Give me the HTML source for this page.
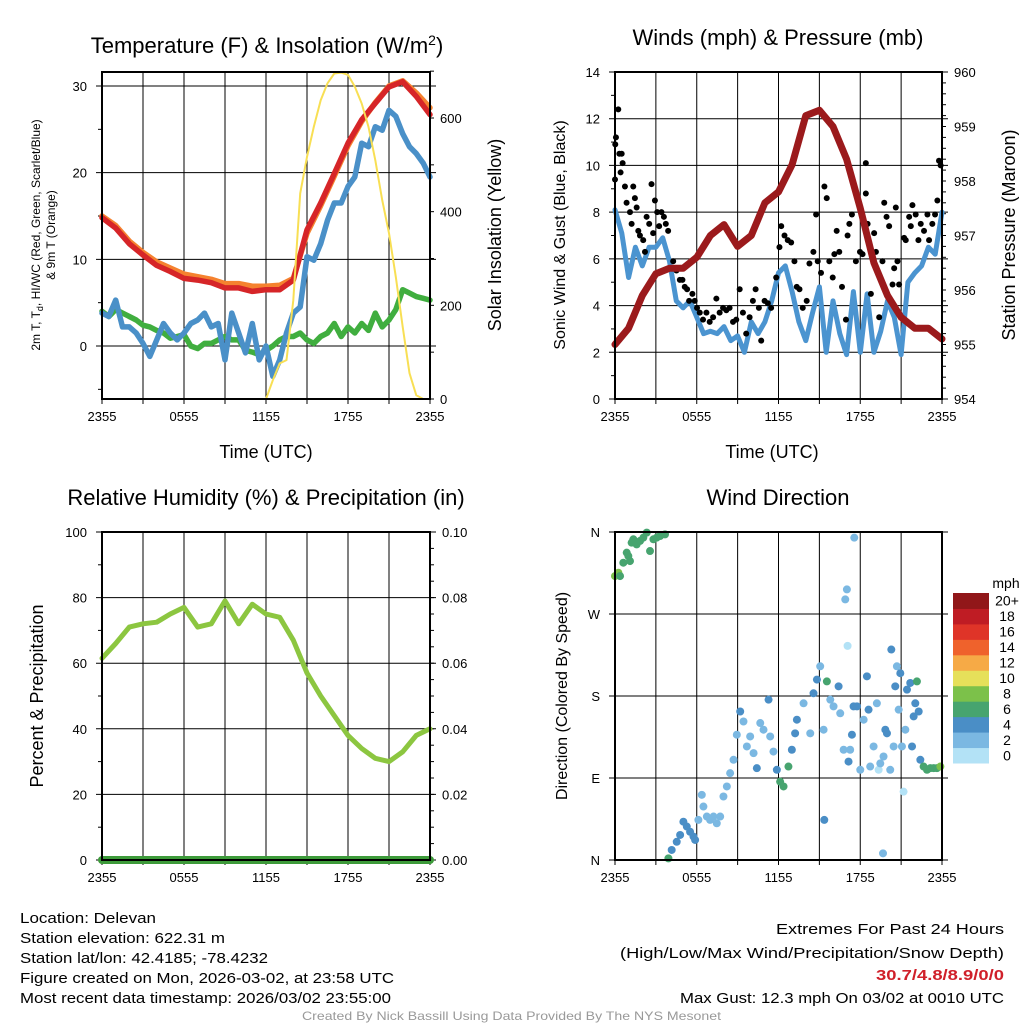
<!DOCTYPE html>
<html><head><meta charset="utf-8"><style>
html,body{margin:0;padding:0;background:#fff;}
svg{display:block;font-family:"Liberation Sans",Arial,sans-serif;}
</style></head><body>
<svg id="chart" width="1024" height="1024" viewBox="0 0 1024 1024" xmlns="http://www.w3.org/2000/svg">
<g id="g1"></g>
<g id="g2"></g>
<g id="g3"></g>
<g id="g4"></g>
<g id="ft">
<text x="20" y="923" font-size="15" textLength="136" lengthAdjust="spacingAndGlyphs">Location: Delevan</text>
<text x="20" y="943" font-size="15" textLength="205" lengthAdjust="spacingAndGlyphs">Station elevation: 622.31 m</text>
<text x="20" y="963" font-size="15" textLength="248" lengthAdjust="spacingAndGlyphs">Station lat/lon: 42.4185; -78.4232</text>
<text x="20" y="983" font-size="15" textLength="374" lengthAdjust="spacingAndGlyphs">Figure created on Mon, 2026-03-02, at 23:58 UTC</text>
<text x="20" y="1003" font-size="15" textLength="371" lengthAdjust="spacingAndGlyphs">Most recent data timestamp: 2026/03/02 23:55:00</text>
<text x="776" y="934" font-size="15" textLength="228" lengthAdjust="spacingAndGlyphs">Extremes For Past 24 Hours</text>
<text x="620" y="958" font-size="15" textLength="384" lengthAdjust="spacingAndGlyphs">(High/Low/Max Wind/Precipitation/Snow Depth)</text>
<text x="876" y="980" font-size="15" font-weight="bold" fill="#d0202a" textLength="128" lengthAdjust="spacingAndGlyphs">30.7/4.8/8.9/0/0</text>
<text x="680" y="1003" font-size="15" textLength="324" lengthAdjust="spacingAndGlyphs">Max Gust: 12.3 mph On 03/02 at 0010 UTC</text>
<text x="302" y="1020" font-size="12" fill="#999" textLength="419" lengthAdjust="spacingAndGlyphs">Created By Nick Bassill Using Data Provided By The NYS Mesonet</text>
</g>
</svg>
<script>
// ---------- data ----------
const timeTicks = ["2355","0555","1155","1755","2355"];
const hourly = [0,1,2,3,4,5,6,7,8,9,10,11,12,13,14,15,16,17,18,19,20,21,22,23,24];
const tempRed = [14.8,13.6,11.8,10.5,9.3,8.6,7.8,7.6,7.3,6.7,6.7,6.3,6.5,6.5,7.6,13.4,16.5,19.9,23.4,26.1,28,29.9,30.5,28.8,26.7];
const temp9mOrange = [15.0,13.9,12.1,10.8,9.7,9.0,8.3,8.0,7.7,7.2,7.2,6.9,6.9,7.0,7.8,13.0,16.2,19.6,23.1,25.9,28.1,30.0,30.6,29.2,27.5];
const halfHour = [0,0.5,1,1.5,2,2.5,3,3.5,4,4.5,5,5.5,6,6.5,7,7.5,8,8.5,9,9.5,10,10.5,11,11.5,12,12.5,13,13.5,14,14.5,15,15.5,16,16.5,17,17.5,18,18.5,19,19.5,20,20.5,21,21.5,22,22.5,23,23.5,24];
const dewBlue = [3.8,3.4,5.3,2.2,2.2,1.5,0.3,-1.2,0.7,2.6,1.5,0.7,1.5,2.6,3.0,3.8,2.2,2.6,-1.6,3.8,1.5,-0.8,2.6,-1.6,0,-3.5,-1.6,1.5,3.8,4.5,10.3,9.9,11.8,14.5,16.5,16.5,18.4,19.5,23.4,23,25.3,24.9,27.2,26.5,24.5,23,22.2,21.1,19.5];
const hiwcGreen = [4.0,3.4,4.2,3.8,3.4,3.0,2.4,2.2,1.8,1.5,0.9,1.1,1.3,0,-0.3,0.3,0.3,0.7,1.1,0.7,0.7,-0.5,-0.7,-1.0,-0.5,0,0.7,1.1,1.1,1.5,0.7,0.3,1.1,1.5,2.6,1.1,2.2,1.5,2.6,1.8,3.8,2.2,3.0,4.2,6.5,6.1,5.7,5.5,5.3];
const solarYellow = [0,0,0,0,0,0,0,0,0,0,0,0,0,0,0,0,0,0,0,0,0,0,0,0,0,40,76,83,211,439,517,581,638,674,695,697,692,667,631,581,510,425,354,261,154,55,8,0,0];
const t1LeftTicks = [0,10,20,30];
const t1RightTicks = [0,200,400,600];

const windBlue = [8.1,7.1,5.2,6.5,5.7,6.5,6.5,6.9,5.9,4.2,3.9,4.2,3.5,2.8,2.9,2.8,3.1,2.5,2.7,2.0,3.3,2.8,3.3,4.2,5.4,5.7,4.6,3.3,2.5,3.7,4.8,2.0,4.2,2.8,1.9,4.6,2.0,4.5,2.0,2.9,4.2,3.5,1.9,5.0,5.4,5.7,6.5,6.2,8.0];
const gustTime = [0,0.02,0.07,0.24,0.32,0.49,0.41,0.56,0.73,0.85,1.1,1.22,1.34,1.46,1.59,1.71,1.83,2.07,2.2,2.32,2.51,2.68,2.8,2.93,3.1,3.24,3.41,3.59,3.73,3.9,4.27,4.51,4.76,4.95,5.12,5.29,5.44,5.68,5.85,6.02,6.22,6.46,6.71,6.95,7.2,7.44,7.68,7.93,8.17,8.41,8.66,8.9,9.15,9.39,9.63,9.88,10.12,10.32,10.56,10.73,10.98,11.22,11.46,11.83,12.07,12.2,12.44,12.68,12.93,13.17,13.34,13.54,13.78,14.07,14.27,14.56,14.76,14.88,15.12,15.37,15.54,15.73,15.98,16.1,16.27,16.46,16.66,16.95,17.07,17.2,17.39,17.68,17.98,18.17,18.41,18.41,18.54,18.78,19.02,19.15,19.39,19.63,19.76,19.93,20.12,20.37,20.49,20.61,20.73,20.85,20.98,21.22,21.34,21.59,21.71,21.83,22.07,22.27,22.44,22.68,22.93,23.05,23.29,23.49,23.66,23.78,23.9];
const gustVal = [9.4,10.9,11.2,12.4,10.5,10.5,9.7,10.1,9.1,8.4,8.0,7.5,9.1,8.6,8.2,7.2,7.0,6.8,6.3,7.8,7.5,9.2,7.1,8.5,8.0,7.4,8.0,7.8,7.5,7.2,5.9,5.5,5.1,5.1,4.8,4.7,4.2,4.5,4.2,3.9,3.7,3.4,3.7,3.3,3.5,4.3,3.7,3.9,3.8,3.9,3.3,3.4,4.7,3.7,2.8,3.5,4.2,4.7,3.9,2.5,4.2,4.1,3.9,5.2,6.5,7.4,7.0,6.8,6.7,5.9,4.8,4.7,3.9,4.2,5.8,6.3,7.9,5.9,5.4,9.1,8.6,5.9,5.2,6.2,7.2,6.3,4.8,3.4,7.0,7.5,7.9,5.9,6.3,6.2,10.1,8.8,7.5,4.5,7.1,6.3,3.5,5.9,8.4,7.8,7.4,4.9,5.6,8.2,5.9,4.9,3.5,6.9,6.8,7.8,7.4,8.3,7.9,6.8,7.5,7.2,7.9,6.8,7.5,7.9,8.5,10.2,10.0];
const pressure = [955.0,955.3,955.9,956.3,956.4,956.4,956.6,957.0,957.2,956.8,957.0,957.6,957.8,958.3,959.2,959.3,959.0,958.4,957.5,956.5,955.9,955.5,955.3,955.3,955.1];
const windLeftTicks = [0,2,4,6,8,10,12,14];
const pressTicks = [954,955,956,957,958,959,960];

const rhVals = [61.5,66,71,72,72.5,75,77,71,72,79,72,78,75,74,67,57,50,44,38,34,31,30,33,38,40];
const precipVals = [0,0,0,0,0,0,0,0,0,0,0,0,0,0,0,0,0,0,0,0,0,0,0,0,0];
const rhTicks = [0,20,40,60,80,100];
const precipTicks = ["0.00","0.02","0.04","0.06","0.08","0.10"];

const dirTime = [0,0.25,0.37,0.61,0.86,1.1,1.22,1.35,1.59,1.84,2.08,2.33,2.57,2.82,3.06,3.31,3.67,0.98,3.92,4.16,4.53,4.78,5.02,5.27,5.51,5.76,5.88,6.12,6.37,6.49,6.74,6.98,7.23,7.47,7.72,7.96,8.21,8.45,8.7,8.94,9.19,9.43,9.68,9.92,10.17,10.41,10.66,10.9,11.27,11.39,11.63,11.88,12.12,12.37,12.73,12.98,13.22,13.35,13.84,14.33,14.57,14.82,15.06,15.31,15.55,15.8,16.04,16.41,16.53,16.78,17.02,17.14,17.26,17.39,17.51,17.56,17.76,18,18.25,18.49,18.61,18.73,18.98,19.22,19.35,19.47,19.71,19.84,19.96,20.2,20.28,20.45,20.57,20.69,20.82,20.94,21.06,21.18,21.31,21.43,21.67,21.8,21.92,22.04,22.16,22.29,22.41,22.65,22.9,23.14,23.39,23.63,23.88,19.67,15.36,16.9,17.07];
const dirDeg = [311.6,315.3,311.6,326.3,337.3,328.1,348.3,352,346.4,350.2,353.8,359.3,339.1,352,353.8,355.6,357.4,333.6,1.8,11,20,27.5,42,36.7,31,25.7,22,44,71.5,58.7,47.7,44,47.7,40.3,47.7,69.7,80.7,95.3,110,137.5,163,152,124.6,135.6,117.3,100.8,150.3,143,176,135.6,119,99,86,80.7,102.6,121,139,154,172,139,183,198,212.6,143,196,176,168.6,190.6,161,121,297,108,121,137.5,168.6,353.8,168.6,99,154,201.6,165,102.6,124.6,172,99,106,113.6,143,139,99,231,124.6,190.6,212.6,165,205,124.6,75,143,187,194.3,124.6,157.6,172,196,163,110,102.6,99,100.8,100.8,100.8,102.6,7.3,44,286,235];
const dirSpeed = [8,8,6,6,6,6,6,6,6,6,6,6,6,6,6,6,6,6,6,4,4,4,4,4,4,4,4,2,2,2,2,2,2,2,2,2,2,2,2,2,4,2,2,2,2,4,2,2,4,2,2,4,6,6,6,4,4,4,2,2,4,4,2,2,6,2,2,4,2,2,2,4,2,4,4,2,4,2,2,4,4,2,2,2,0,2,2,4,4,2,4,2,4,2,2,4,2,0,2,4,4,4,4,4,6,4,4,6,6,6,6,6,8,2,4,2,0];
const dirTicks = ["N","E","S","W","N"];
const speedBins = [0,2,4,6,8,10,12,14,16,18,20];
const speedLabels = ["0","2","4","6","8","10","12","14","16","18","20+"];
const speedColors = ["#b3e2f6","#7bb8e2","#4a8ec6","#47a46f","#7cc14a","#e6e05a","#f6aa46","#ef622c","#df3428","#bf1c24","#911719"];

// ---------- helpers ----------
const NS = "http://www.w3.org/2000/svg";
function mk(parent, tag, attrs, text){
  const e = document.createElementNS(NS, tag);
  for (const k in attrs) e.setAttribute(k, attrs[k]);
  if (text !== undefined) e.textContent = text;
  parent.appendChild(e);
  return e;
}
function lin(d0,d1,r0,r1){ return v => r0 + (v-d0)/(d1-d0)*(r1-r0); }
function pathOf(xs, ys, sx, sy){
  return xs.map((x,i)=>(i?"L":"M")+sx(x).toFixed(1)+","+sy(ys[i]).toFixed(1)).join("");
}
function frame(g, L, R, T, B, sx){
  for (let h=0; h<=24; h+=3){
    const x = sx(h);
    const gl = mk(g,"line",{x1:x,x2:x,y1:T,y2:B,stroke:"#000","stroke-width":1});
    
    
    const tk = mk(g,"line",{x1:x,x2:x,y1:B,y2:B+5,stroke:"#000","stroke-width":1});
    
    
  }
  for (let i=0;i<timeTicks.length;i++){
    const t = mk(g,"text",{x:sx(i*6),y:B+22,"font-size":13,"text-anchor":"middle"},timeTicks[i]);
    
    
  }
}
function box(g,L,R,T,B){
  const r = mk(g,"rect",{x:L,y:T,width:R-L,height:B-T,fill:"none",stroke:"#000","stroke-width":2});
  
  
}
function hgrid(g,L,R,y){
  const l = mk(g,"line",{x1:L-6,x2:R+6,y1:y,y2:y,stroke:"#000","stroke-width":1});
  
  
}
function minor(g,x,y,dir){
  const l = mk(g,"line",{x1:x,x2:x+dir*4,y1:y,y2:y,stroke:"#000","stroke-width":1});
  
  
}
function label(g,x,y,txt,size,anchor,name,rot){
  const a = {x:x,y:y,"font-size":size,"text-anchor":anchor||"middle"};
  if (rot) a.transform = "rotate(-90 "+x+" "+y+")";
  const t = mk(g,"text",a,txt);
  
  
  return t;
}
function series(g,xs,ys,sx,sy,color,w,name){
  const p = mk(g,"path",{d:pathOf(xs,ys,sx,sy),fill:"none",stroke:color,"stroke-width":w,"stroke-linejoin":"round","stroke-linecap":"round"});
  
  
  return p;
}

// ---------- panel 1 ----------
(function(){
  const g = document.getElementById("g1");
  const L=102,R=430,T=72,B=399;
  const sx = lin(0,24,L,R), sy = lin(0,30,346,86), sy2 = lin(0,600,399,118);
  frame(g,L,R,T,B,sx);
  t1LeftTicks.forEach(v=>{ hgrid(g,L,R,sy(v)); label(g,L-15,sy(v)+5,String(v),13,"end","y-tick-label"); });
  for (let v=-5; v<=30; v+=10) minor(g,L,sy(v),-1);
  t1RightTicks.forEach(v=>{ label(g,R+10,sy2(v)+5,String(v),13,"start","y2-tick-label"); minor(g,R,sy2(v),1); });
  for (let v=100; v<=700; v+=200) minor(g,R,sy2(v),1);
  series(g,halfHour,hiwcGreen,sx,sy,"#40ae3f",5.5,"hiwc-line-green");
  series(g,halfHour,dewBlue,sx,sy,"#4a90c8",5.5,"dewpoint-line-blue");
  series(g,hourly,temp9mOrange,sx,sy,"#f5822f",5.5,"temp-9m-line-orange");
  series(g,hourly,tempRed,sx,sy,"#d62528",5.5,"temp-2m-line-red");
  series(g,halfHour,solarYellow,sx,sy2,"#f8df54",2,"solar-line-yellow");
  box(g,L,R,T,B);
  const tt = label(g,267,53,"",22,"middle","panel-title");
  tt.innerHTML = 'Temperature (F) &amp; Insolation (W/m<tspan dy="-8" font-size="14">2</tspan><tspan dy="8">)</tspan>';
  label(g,266,458,"Time (UTC)",18,"middle","x-axis-title");
  const yl = label(g,40,235,"",12,"middle","y-axis-title",true);
  yl.innerHTML = '2m T, T<tspan dy="3" font-size="9">d</tspan><tspan dy="-3">, HI/WC (Red, Green, Scarlet/Blue)</tspan>';
  label(g,55,235,"& 9m T (Orange)",12,"middle","y-axis-title-line2",true);
  label(g,501,235,"Solar Insolation (Yellow)",18,"middle","y2-axis-title",true);
})();

// ---------- panel 2 ----------
(function(){
  const g = document.getElementById("g2");
  const L=615,R=942,T=72,B=399;
  const sx = lin(0,24,L,R), sy = lin(0,14,399,72), sy2 = lin(954,960,399,72);
  frame(g,L,R,T,B,sx);
  windLeftTicks.forEach(v=>{ hgrid(g,L,R,sy(v)); label(g,L-15,sy(v)+5,String(v),13,"end","y-tick-label"); });
  for (let v=1; v<14; v+=2) minor(g,L,sy(v),-1);
  pressTicks.forEach(v=>{ label(g,R+12,sy2(v)+5,String(v),13,"start","y2-tick-label"); minor(g,R,sy2(v),1); });
  for (let v=954; v<960; v+=0.2) minor(g,R,sy2(v),1);
  series(g,halfHour,windBlue,sx,sy,"#4b94d0",5,"sonic-wind-line-blue");
  gustTime.forEach((t,i)=>{
    const c = mk(g,"circle",{cx:sx(t),cy:sy(gustVal[i]),r:3,fill:"#000"});
    
    
  });
  series(g,hourly,pressure,sx,sy2,"#9b1a1c",7,"pressure-line-maroon");
  box(g,L,R,T,B);
  label(g,778,45,"Winds (mph) & Pressure (mb)",22,"middle","panel-title");
  label(g,772,458,"Time (UTC)",18,"middle","x-axis-title");
  label(g,565,235,"Sonic Wind & Gust (Blue, Black)",16,"middle","y-axis-title",true);
  label(g,1015,235,"Station Pressure (Maroon)",18,"middle","y2-axis-title",true);
})();

// ---------- panel 3 ----------
(function(){
  const g = document.getElementById("g3");
  const L=102,R=430,T=532,B=860;
  const sx = lin(0,24,L,R), sy = lin(0,100,860,532), sy2 = lin(0,0.1,860,532);
  frame(g,L,R,T,B,sx);
  rhTicks.forEach(v=>{ hgrid(g,L,R,sy(v)); label(g,L-15,sy(v)+5,String(v),13,"end","y-tick-label"); });
  for (let v=10; v<100; v+=20) minor(g,L,sy(v),-1);
  precipTicks.forEach((v,i)=>{ label(g,R+12,sy(i*20)+5,v,13,"start","y2-tick-label"); });
  for (let v=0; v<=100; v+=5) minor(g,R,sy(v),1);
  series(g,hourly,rhVals,sx,sy,"#8cc640",5,"rh-line");
  series(g,hourly,precipVals,sx,sy2,"#3d9b3a",8,"precip-line");
  box(g,L,R,T,B);
  label(g,266,505,"Relative Humidity (%) & Precipitation (in)",22,"middle","panel-title");
  label(g,43,696,"Percent & Precipitation",18,"middle","y-axis-title",true);
})();

// ---------- panel 4 ----------
(function(){
  const g = document.getElementById("g4");
  const L=615,R=942,T=532,B=860;
  const sx = lin(0,24,L,R), sy = lin(0,360,860,532);
  frame(g,L,R,T,B,sx);
  dirTicks.forEach((v,i)=>{ hgrid(g,L,R,sy(i*90)); label(g,L-15,sy(i*90)+5,v,13,"end","y-tick-label"); });
  function colorFor(s){ let k=0; for (let i=0;i<speedBins.length;i++) if (s>=speedBins[i]) k=i; return speedColors[k]; }
  dirTime.forEach((t,i)=>{
    const c = mk(g,"circle",{cx:sx(t),cy:sy(dirDeg[i]),r:4,fill:colorFor(dirSpeed[i])});
    
    
  });
  box(g,L,R,T,B);
  label(g,778,505,"Wind Direction",22,"middle","panel-title");
  label(g,567,696,"Direction (Colored By Speed)",16,"middle","y-axis-title",true);
  const cbT=593, cbH=170/11;
  label(g,1006,588,"mph",14,"middle","colorbar-title");
  for (let i=0;i<speedColors.length;i++){
    const y = cbT + (speedColors.length-1-i)*cbH;
    const r = mk(g,"rect",{x:953,y:y,width:36,height:cbH+0.5,fill:speedColors[i]});
    
    
    label(g,1007,y+cbH/2+5,speedLabels[i],14,"middle","colorbar-label");
  }
})();
</script>
</body></html>
